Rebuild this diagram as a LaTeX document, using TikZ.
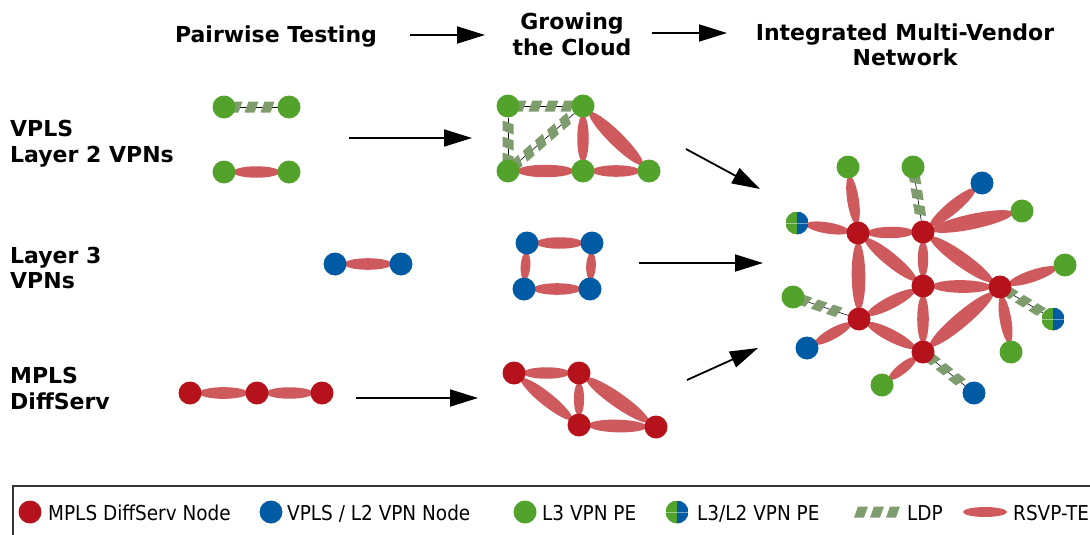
\documentclass[tikz,border=0pt]{standalone}
\usepackage{fontspec}
\newfontfamily\hdfont{DejaVu Sans}
\newfontfamily\lgfont[FakeStretch=0.9]{DejaVu Sans}
\usetikzlibrary{shapes.geometric,arrows.meta,calc,decorations.markings}
\pgfdeclarelayer{bg}\pgfsetlayers{bg,main}
\definecolor{mplsred}{RGB}{181,18,27}
\definecolor{vplsblue}{RGB}{0,91,165}
\definecolor{pegreen}{RGB}{82,162,43}
\definecolor{rsvpc}{RGB}{206,90,94}
\definecolor{ldpc}{RGB}{126,156,110}
\tikzset{
 nd/.style={circle, minimum size=23pt, inner sep=0pt, outer sep=0pt},
 mnode/.style={nd, fill=mplsred},
 bnode/.style={nd, fill=vplsblue},
 gnode/.style={nd, fill=pegreen},
 hnode/.style={nd, path picture={
   \fill[pegreen] (path picture bounding box.south west) rectangle (path picture bounding box.north);
   \fill[vplsblue] (path picture bounding box.south) rectangle (path picture bounding box.north east);
   \draw[white, opacity=0.45, line width=0.6pt] (path picture bounding box.west) -- (path picture bounding box.east);}},
 rsvpshape/.style={ellipse, fill=rsvpc, inner sep=0pt, outer sep=0pt},
 ldpdeco/.style={decorate, decoration={markings, mark=between positions 0 and 1 step 16pt with {\fill[ldpc] (-7pt,-5.5pt) -- (3pt,-5.5pt) -- (7pt,5.5pt) -- (-3pt,5.5pt) -- cycle;}}},
 wire/.style={black, line width=0.6pt},
 flow/.style={line width=1.8pt, -{Triangle[length=28pt,width=17pt]}},
 head/.style={font=\hdfont\bfseries\fontsize{22}{26}\selectfont, inner sep=0pt},
 lg/.style={font=\lgfont\fontsize{20.5}{24}\selectfont, inner sep=0pt, anchor=base west},
}
\newcommand\rsvplink[2]{%
 \begin{pgfonlayer}{bg}
 \draw[wire] (#1) -- (#2);
 \path let \p1=($(#2)-(#1)$), \n1={veclen(\x1,\y1)}, \n2={atan2(\y1,\x1)} in
  node[rsvpshape, minimum width={\n1-18pt}, minimum height={5pt+0.1*\n1}, rotate=\n2] at ($(#1)!0.5!(#2)$) {};
 \end{pgfonlayer}}
\newcommand\ldplink[2]{%
 \begin{pgfonlayer}{bg}
 \draw[wire] (#1) -- (#2);
 \path[ldpdeco] (#1) -- (#2);
 \end{pgfonlayer}}
\begin{document}
\begin{tikzpicture}[x=1pt,y=-1pt]
\clip (0,0) rectangle (1090,535);
% titles
\node[head, anchor=base] (t1) at (276,43) {Pairwise Testing};
\node[head, anchor=base] (t2a) at (572,30) {Growing};
\node[head, anchor=base] (t2b) at (572,56) {the Cloud};
\node[head, anchor=base] (t3a) at (905,41) {Integrated Multi-Vendor};
\node[head, anchor=base] (t3b) at (905,66) {Network};
% row labels
\node[head, anchor=base west] (l1a) at (10,136) {VPLS};
\node[head, anchor=base west] (l1b) at (10,162) {Layer 2 VPNs};
\node[head, anchor=base west] (l2a) at (10,263) {Layer 3};
\node[head, anchor=base west] (l2b) at (10,288) {VPNs};
\node[head, anchor=base west] (l3a) at (10,383) {MPLS};
\node[head, anchor=base west] (l3b) at (10,409) {DiffServ};
% arrows
\coordinate (a1s) at (410,35); \coordinate (a1e) at (485,35);
\coordinate (a2s) at (652,33); \coordinate (a2e) at (727,33);
\coordinate (a3s) at (349,138); \coordinate (a3e) at (472,138);
\coordinate (a4s) at (356,398); \coordinate (a4e) at (478,398);
\coordinate (a5s) at (686,149); \coordinate (a5e) at (760,189);
\coordinate (a6s) at (639,263); \coordinate (a6e) at (763,263);
\coordinate (a7s) at (687,380); \coordinate (a7e) at (758,348);
\foreach \s/\e in {a1s/a1e,a2s/a2e,a3s/a3e,a4s/a4e,a5s/a5e,a6s/a6e,a7s/a7e}
  \draw[flow] (\s) -- (\e);
% pairwise
\node[gnode] (pa1) at (224,107) {};
\node[gnode] (pa2) at (289,107) {};
\node[gnode] (pa3) at (224,172) {};
\node[gnode] (pa4) at (289,172) {};
\ldplink{pa1}{pa2}
\rsvplink{pa3}{pa4}
\node[bnode] (pb1) at (335,264) {};
\node[bnode] (pb2) at (401,264) {};
\rsvplink{pb1}{pb2}
\node[mnode] (pc1) at (190,393) {};
\node[mnode] (pc2) at (257,393) {};
\node[mnode] (pc3) at (322,393) {};
\rsvplink{pc1}{pc2}
\rsvplink{pc2}{pc3}
% growing the cloud
\node[gnode] (ca1) at (508,106) {};
\node[gnode] (ca2) at (583,106) {};
\node[gnode] (ca3) at (508,171) {};
\node[gnode] (ca4) at (583,171) {};
\node[gnode] (ca5) at (649,171) {};
\ldplink{ca1}{ca2}
\ldplink{ca3}{ca1}
\ldplink{ca3}{ca2}
\rsvplink{ca3}{ca4}
\rsvplink{ca4}{ca5}
\rsvplink{ca2}{ca4}
\rsvplink{ca2}{ca5}
\node[bnode] (cb1) at (527,243) {};
\node[bnode] (cb2) at (592,243) {};
\node[bnode] (cb3) at (524,289) {};
\node[bnode] (cb4) at (590,289) {};
\rsvplink{cb1}{cb2}
\rsvplink{cb3}{cb4}
\rsvplink{cb1}{cb3}
\rsvplink{cb2}{cb4}
\node[mnode] (cc1) at (514,373) {};
\node[mnode] (cc2) at (579,373) {};
\node[mnode] (cc3) at (579,425) {};
\node[mnode] (cc4) at (656,427) {};
\rsvplink{cc1}{cc2}
\rsvplink{cc1}{cc3}
\rsvplink{cc2}{cc3}
\rsvplink{cc2}{cc4}
\rsvplink{cc3}{cc4}
% integrated network
\node[mnode] (r1) at (858,233) {};
\node[mnode] (r2) at (923,232) {};
\node[mnode] (r3) at (923,286) {};
\node[mnode] (r4) at (1000,287) {};
\node[mnode] (r5) at (859,319) {};
\node[mnode] (r6) at (923,352) {};
\node[gnode] (g1) at (848,167) {};
\node[gnode] (g2) at (913,167) {};
\node[bnode] (b1) at (982,183) {};
\node[gnode] (g3) at (1022,211) {};
\node[hnode] (h1) at (797,223) {};
\node[gnode] (g4) at (1065,265) {};
\node[hnode] (h2) at (1053,319) {};
\node[gnode] (g5) at (1011,352) {};
\node[gnode] (g6) at (793,297) {};
\node[bnode] (b2) at (807,348) {};
\node[gnode] (g7) at (882,385) {};
\node[bnode] (b3) at (974,393) {};
\rsvplink{r1}{r2}
\rsvplink{r1}{r3}
\rsvplink{r1}{r5}
\rsvplink{r2}{r3}
\rsvplink{r2}{r4}
\rsvplink{r3}{r4}
\rsvplink{r5}{r3}
\rsvplink{r3}{r6}
\rsvplink{r5}{r6}
\rsvplink{r6}{r4}
\rsvplink{g1}{r1}
\ldplink{g2}{r2}
\rsvplink{b1}{r2}
\rsvplink{g3}{r2}
\rsvplink{h1}{r1}
\rsvplink{r4}{g4}
\ldplink{r4}{h2}
\rsvplink{r4}{g5}
\ldplink{g6}{r5}
\rsvplink{b2}{r5}
\rsvplink{g7}{r6}
\ldplink{r6}{b3}
% legend
\draw[line width=1.6pt, black!80] (13,486) rectangle (1100,550);
\node[mnode] (k1) at (30,512) {};
\node[lg] (k1t) at (48,520) {MPLS DiffServ Node};
\node[bnode] (k2) at (271,512) {};
\node[lg] (k2t) at (287,520) {VPLS / L2 VPN Node};
\node[gnode] (k3) at (525,512) {};
\node[lg] (k3t) at (542,520) {L3 VPN PE};
\node[hnode] (k4) at (677,512) {};
\node[lg] (k4t) at (697,520) {L3/L2 VPN PE};
\coordinate (k5a) at (861,512); \coordinate (k5b) at (893,512);
\path[ldpdeco] (k5a) -- (k5b);
\node[lg] (k5t) at (907,520) {LDP};
\node[rsvpshape, minimum width=44pt, minimum height=10pt] (k6) at (985,512) {};
\node[lg] (k6t) at (1013,520) {RSVP-TE};
\end{tikzpicture}
\end{document}
